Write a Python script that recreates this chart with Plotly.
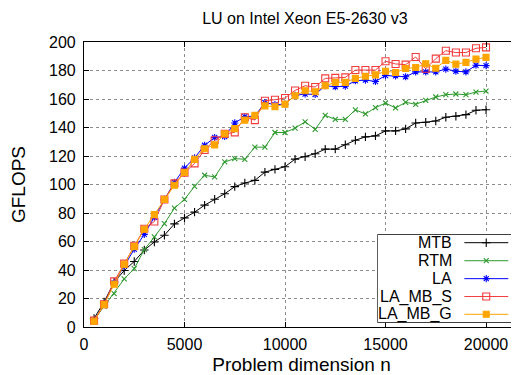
import plotly.graph_objects as go

# ---------------- data ----------------
n = list(range(500, 20001, 500))

mtb = [6, 17.6, 31.5, 39.6, 46, 54, 59.7, 64.4, 72.4, 76.6,
       80.6, 85.5, 89.7, 93.5, 98.5, 101, 102.9, 108.7, 110.6, 112.5,
       117.8, 119.5, 121.6, 124.8, 124.8, 127.9, 131.1, 133.4, 134.1, 137.6,
       137.6, 139, 143.2, 143.7, 144.6, 147.2, 147.9, 149, 152.1, 152.5]

rtm = [5, 14.5, 23.4, 33.7, 41, 54.3, 63.2, 72.6, 83.4, 89.5,
       98.7, 106.5, 105.3, 115.8, 118.2, 117.7, 126.2, 126.2, 136.5, 136.5,
       139.5, 144, 138.7, 148.5, 145.7, 145.7, 152.4, 149.5, 153.9, 157.2,
       153.7, 157.7, 156.3, 159.1, 161.4, 163, 163.5, 163, 164.9, 165.6]

la = [4, 16, 31, 43, 54.6, 65, 77, 89.5, 101.5, 111.5,
      118.7, 127.5, 133, 133.7, 143.2, 147.6, 148, 157.5, 156, 156.4,
      162.5, 163.5, 163.2, 169.3, 168.6, 169, 172.8, 173.3, 172.3, 176.5,
      176.2, 175.6, 179, 179, 179, 181, 179.5, 179, 183.7, 183.4]

la_mb_s = [4.5, 16, 32, 44.5, 57, 69, 74, 89.5, 100.8, 108.3,
           114.8, 124.2, 131, 135.5, 136.6, 147.2, 145.2, 158.8, 159.5, 160.7,
           166, 169.3, 168.4, 174.5, 174.8, 175.2, 180.3, 180.3, 180.3, 186.5,
           184.6, 184.1, 189.5, 181.2, 188.3, 193.9, 192.6, 192.6, 195.6, 196.2]

la_mb_g = [4, 15.7, 30, 44, 56.4, 68.6, 79, 89.5, 99.5, 108.4,
           117.6, 125.1, 127.8, 135.6, 139.2, 145.2, 148.5, 155.2, 154.6, 156.4,
           162.3, 165.8, 165.1, 169.3, 171.7, 171.7, 174.5, 176, 176.9, 179.5,
           178.6, 181.4, 182.1, 184.7, 181.6, 187.1, 184.5, 185.7, 188, 189.2]

names = ["MTB", "RTM", "LA", "LA_MB_S", "LA_MB_G"]
x_ticks = [0, 5000, 10000, 15000, 20000]
x_tick_labels = ["0", "5000", "10000", "15000", "20000"]
y_ticks = list(range(0, 201, 20))

# ---------------- styles ----------------
styles = [
    dict(color="#000000", symbol="cross-thin", size=6),
    dict(color="#2e9a2e", symbol="x-thin", size=5),
    dict(color="#0000ff", symbol="asterisk-open", size=6),
    dict(color="#f23c3c", symbol="square-open", size=7),
    dict(color="#ffa500", symbol="square", size=6),
]
values = [mtb, rtm, la, la_mb_s, la_mb_g]

FONT = "Liberation Sans, Arial, sans-serif"
fig = go.Figure()

for name, ys, st in zip(names, values, styles):
    fig.add_trace(go.Scatter(
        x=n, y=ys, mode="lines+markers", name=name, showlegend=False,
        line=dict(color=st["color"], width=1),
        marker=dict(symbol=st["symbol"], size=st["size"], color=st["color"],
                    line=dict(color=st["color"], width=1.1)),
        xaxis="x", yaxis="y"))

# ---------------- gnuplot-style key (own small subplot) ----------------
rows = [0.905, 0.701, 0.498, 0.296, 0.095]
for name, st, yr in zip(names, styles, rows):
    fig.add_trace(go.Scatter(
        x=[0.62, 0.933], y=[yr, yr], mode="lines", showlegend=False,
        line=dict(color=st["color"], width=1), xaxis="x2", yaxis="y2",
        hoverinfo="skip"))
    fig.add_trace(go.Scatter(
        x=[0.776], y=[yr], mode="markers", showlegend=False,
        marker=dict(symbol=st["symbol"], size=st["size"], color=st["color"],
                    line=dict(color=st["color"], width=1.1)),
        xaxis="x2", yaxis="y2", hoverinfo="skip"))
    fig.add_annotation(x=0.546, y=yr, xref="x2", yref="y2", text=name,
                       showarrow=False, xanchor="right", yanchor="middle",
                       font=dict(family=FONT, size=16, color="black"))

fig.add_shape(type="rect", xref="x2", yref="y2", x0=0, x1=1, y0=0, y1=1,
              fillcolor="white", line=dict(color="black", width=1.2),
              layer="below")

grid = dict(showgrid=True, gridcolor="#8c8c8c", gridwidth=1, griddash="dot")

# the page body adds an 8px margin, so the figure is 8px smaller each way
fig.update_layout(
    width=511, height=367,
    margin=dict(l=76, r=0, t=34, b=48),
    paper_bgcolor="white", plot_bgcolor="white",
    font=dict(family=FONT, size=16, color="black"),
    title=dict(text="LU on Intel Xeon E5-2630 v3", x=0.581, xref="container",
               xanchor="center", y=0.973, yref="container", yanchor="middle",
               font=dict(family=FONT, size=16, color="black")),
    xaxis=dict(domain=[0, 1], range=[0, 21640], tickvals=x_ticks,
               ticktext=x_tick_labels,
               ticks="inside", ticklen=5, tickcolor="black",
               showline=True, linecolor="black", linewidth=1.2, mirror="ticks",
               zeroline=False, ticklabelstandoff=3,
               title=dict(text="Problem dimension n", standoff=9), **grid),
    yaxis=dict(domain=[0, 1], range=[0, 200], tickvals=y_ticks,
               ticks="inside", ticklen=5, tickcolor="black",
               showline=True, linecolor="black", linewidth=1.2, mirror=False,
               zeroline=False, ticklabelstandoff=4,
               title=dict(text="GFLOPS", standoff=22), **grid),
    xaxis2=dict(domain=[0.6743, 0.997], range=[0, 1], anchor="y2",
                visible=False, fixedrange=True),
    yaxis2=dict(domain=[0.0151, 0.3253], range=[0, 1], anchor="x2",
                visible=False, fixedrange=True),
    showlegend=False,
)

fig.write_html("out.html")
